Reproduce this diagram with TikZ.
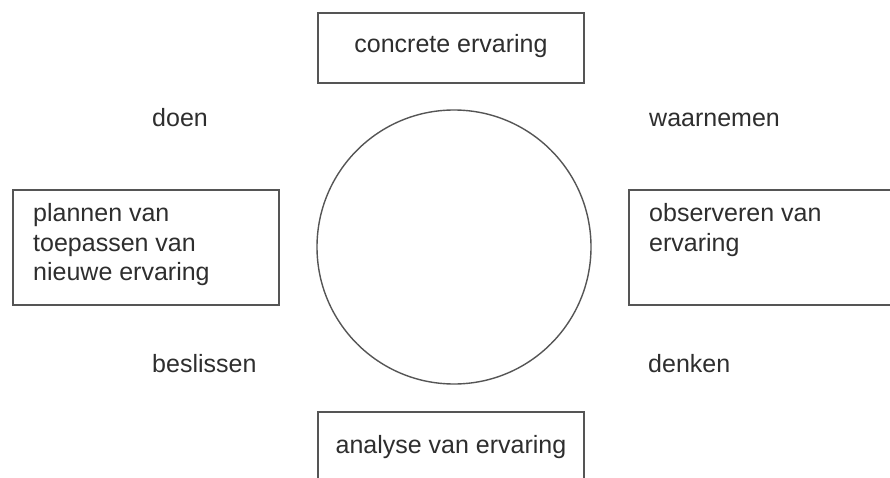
\documentclass[tikz,border=0pt]{standalone}
\usepackage{fontspec}
\setmainfont{Liberation Sans}
\definecolor{txt}{HTML}{2E2E2E}
\definecolor{ln}{HTML}{555555}
\begin{document}
\begin{tikzpicture}[x=1pt,y=-1pt,
  box/.style={draw=ln, line width=1.4pt, inner sep=0pt},
  lbl/.style={text=txt, font=\fontsize{25}{30}\selectfont, inner sep=0pt, anchor=base west},
  ctr/.style={text=txt, font=\fontsize{25}{30}\selectfont, inner sep=0pt, anchor=base},
  ring/.style={draw=ln, line width=1.4pt, circle, inner sep=0pt}]
\path[use as bounding box, fill=white] (0,0) rectangle (890,478);
\begin{scope}
\clip (0,0) rectangle (890,478);
\node[box, minimum width=266pt, minimum height=70pt] (top) at (451,48) {};
\node[box, minimum width=266pt, minimum height=115pt] (left) at (146,247.5) {};
\node[box, minimum width=264pt, minimum height=115pt] (right) at (761,247.5) {};
\node[box, minimum width=266pt, minimum height=70pt] (bottom) at (451,447) {};
\node[ring, minimum size=274pt] (c) at (454,247) {};
\end{scope}
\node[ctr] (ttop) at (451,53) {concrete ervaring};
\node[ctr] (tbot) at (451,453) {analyse van ervaring};
\node[lbl] (l1) at (33,222) {plannen van};
\node[lbl] (l2) at (33,251) {toepassen van};
\node[lbl] (l3) at (33,280) {nieuwe ervaring};
\node[lbl] (r1) at (649,222) {observeren van};
\node[lbl] (r2) at (649,251) {ervaring};
\node[lbl] (doen) at (152,127) {doen};
\node[lbl] (waar) at (649,127) {waarnemen};
\node[lbl] (besl) at (152,372) {beslissen};
\node[lbl] (denk) at (648,372) {denken};
\end{tikzpicture}
\end{document}
